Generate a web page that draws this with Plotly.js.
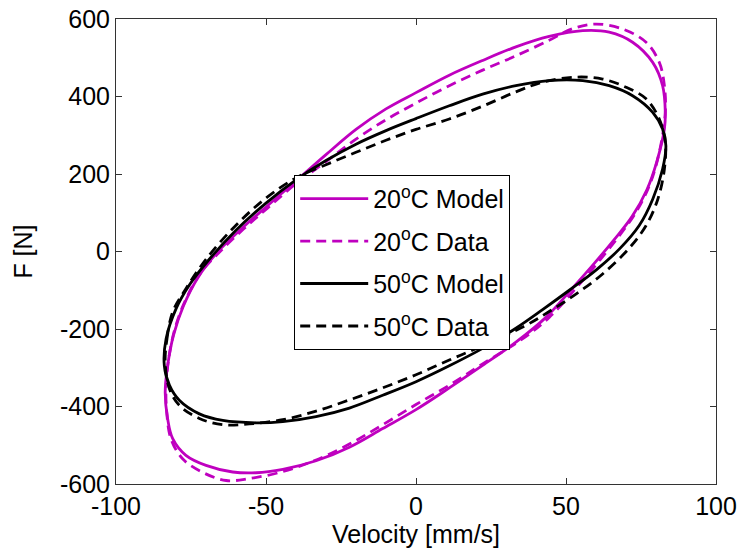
<!DOCTYPE html>
<html>
<head>
<meta charset="utf-8">
<script src="https://cdn.plot.ly/plotly-3.0.1.min.js"></script>
<style>
  html, body { margin: 0; padding: 0; background: #ffffff; }
  #chart { width: 741px; height: 554px; }
</style>
</head>
<body>
<div id="chart"></div>
<script>
// Force–velocity hysteresis loops of the damper at two temperatures.
// Each loop is listed starting at its most negative velocity, along the
// upper branch to the right, then back along the lower branch.

const legendNames = ['20<sup>o</sup>C Model', '20<sup>o</sup>C Data', '50<sup>o</sup>C Model', '50<sup>o</sup>C Data'];

// 20 °C model
const vel20Model = [-83.6, -82.7, -80.8, -77.5, -72.5, -66.0, -58.0, -50.0, -40.0, -30.0, -20.0, -10.0, 0.0, 11.1, 22.2, 33.3, 44.4, 55.6, 64.4, 72.2, 78.9, 82.2, 83.1, 82.8, 80.2, 77.0, 72.0, 66.0, 59.5, 52.0, 43.3, 33.3, 22.2, 11.1, 0.0, -11.1, -22.2, -33.3, -44.4, -53.3, -61.1, -70.0, -76.7, -81.1, -82.8, -83.6];
const force20Model = [-363, -290, -215, -140, -65, 0, 60, 115, 182, 250, 315, 368, 410, 455, 493, 528, 555, 570, 566, 540, 488, 428, 359, 316, 230, 160, 90, 30, -30, -96, -170, -234, -294, -352, -408, -457, -505, -540, -562, -571, -569, -552, -526, -483, -431, -363];

// 20 °C measured
const vel20Data = [-83.3, -82.3, -80.2, -76.8, -71.8, -65.3, -57.5, -49.5, -40.0, -30.0, -20.0, -10.0, 0.0, 11.1, 22.2, 33.3, 44.4, 52.2, 60.0, 68.9, 76.7, 81.1, 82.8, 83.1, 81.1, 77.8, 73.3, 67.8, 61.5, 53.3, 44.4, 35.6, 22.2, 11.1, 0.0, -11.1, -22.2, -33.3, -44.4, -55.6, -63.3, -71.1, -77.8, -81.7, -83.1, -83.3];
const force20Data = [-346, -270, -195, -125, -55, 0, 58, 112, 175, 232, 290, 340, 383, 428, 468, 505, 545, 575, 587, 574, 540, 488, 428, 359, 256, 170, 101, 41, -20, -95, -170, -225, -290, -345, -395, -447, -497, -538, -568, -586, -591, -570, -535, -483, -414, -346];

// 50 °C model
const vel50Model = [-83.9, -83.3, -80.0, -75.6, -68.9, -60.0, -50.0, -40.0, -30.0, -20.0, -10.0, 0.0, 11.1, 22.2, 33.3, 44.4, 55.6, 64.4, 72.2, 78.9, 82.2, 83.3, 82.2, 78.9, 74.4, 68.0, 60.0, 51.1, 42.2, 33.3, 22.2, 11.1, 0.0, -11.1, -22.2, -33.3, -44.4, -53.3, -64.4, -72.2, -78.9, -82.2, -83.9];
const force50Model = [-294, -225, -148, -87, -20, 55, 125, 185, 235, 277, 312, 343, 376, 406, 428, 441, 441, 428, 402, 359, 316, 273, 213, 135, 67, 8, -48, -100, -150, -198, -250, -295, -336, -371, -404, -426, -439, -442, -436, -419, -384, -345, -294];

// 50 °C measured
const vel50Data = [-83.6, -83.0, -81.1, -76.7, -70.0, -60.0, -50.0, -40.0, -30.0, -20.0, -10.0, 0.0, 11.1, 22.2, 33.3, 42.2, 53.3, 62.2, 70.0, 76.7, 81.1, 83.1, 82.8, 80.6, 76.7, 71.0, 62.2, 53.3, 44.4, 35.6, 22.2, 11.1, 0.0, -11.1, -22.2, -33.3, -44.4, -55.6, -64.4, -72.2, -78.9, -82.2, -83.6];
const force50Data = [-286, -225, -156, -96, -20, 68, 138, 190, 224, 256, 287, 315, 342, 375, 412, 437, 450, 445, 424, 394, 342, 282, 213, 135, 67, 8, -58, -110, -155, -195, -243, -280, -318, -352, -383, -412, -434, -445, -447, -431, -397, -354, -286];

const magenta = '#bf00bf';
const black = '#000000';
const dashPattern = '10px,6px';
const fontFamily = 'Liberation Sans, Arial, sans-serif';

function loop(x, y, name, color, dash, group) {
  return {
    x: x, y: y, name: name, legendgroup: group,
    type: 'scatter', mode: 'lines',
    line: { color: color, width: 2.8, dash: dash, shape: 'spline', smoothing: 1 },
    hoverinfo: 'x+y'
  };
}

const traces = [
  loop(vel20Model, force20Model, legendNames[0], magenta, 'solid', 'a'),
  loop(vel20Data, force20Data, legendNames[1], magenta, dashPattern, 'b'),
  loop(vel50Model, force50Model, legendNames[2], black, 'solid', 'c'),
  loop(vel50Data, force50Data, legendNames[3], black, dashPattern, 'd')
];

const axisCommon = {
  showgrid: false,
  zeroline: false,
  showline: true,
  linecolor: '#333333',
  linewidth: 1,
  mirror: 'ticks',
  ticks: 'inside',
  ticklen: 6,
  tickwidth: 1,
  tickcolor: '#333333',
  tickfont: { family: fontFamily, size: 25, color: '#000000' }
};

const layout = {
  width: 741,
  height: 554,
  margin: { l: 116, r: 25, t: 19, b: 70 },
  paper_bgcolor: '#ffffff',
  plot_bgcolor: '#ffffff',
  font: { family: fontFamily, size: 25, color: '#000000' },
  showlegend: true,
  xaxis: Object.assign({}, axisCommon, {
    range: [-100, 100],
    tickmode: 'array',
    tickvals: [-100, -50, 0, 50, 100],
    ticktext: ['-100', '-50', '0', '50', '100'],
    title: { text: 'Velocity [mm/s]', standoff: 2, font: { size: 25 } }
  }),
  yaxis: Object.assign({}, axisCommon, {
    range: [-600, 600],
    tickmode: 'array',
    tickvals: [-600, -400, -200, 0, 200, 400, 600],
    ticktext: ['-600', '-400', '-200', '0', '200', '400', '600'],
    title: { text: 'F [N]', standoff: 20, font: { size: 25 } }
  }),
  legend: {
    x: 0.297, y: 0.665,
    xanchor: 'left', yanchor: 'top',
    bgcolor: '#ffffff',
    bordercolor: '#000000',
    borderwidth: 1,
    itemwidth: 68,
    traceorder: 'grouped',
    tracegroupgap: 7,
    font: { family: fontFamily, size: 25, color: '#000000' }
  }
};

Plotly.newPlot('chart', traces, layout, { displayModeBar: false, staticPlot: true });
</script>
</body>
</html>
